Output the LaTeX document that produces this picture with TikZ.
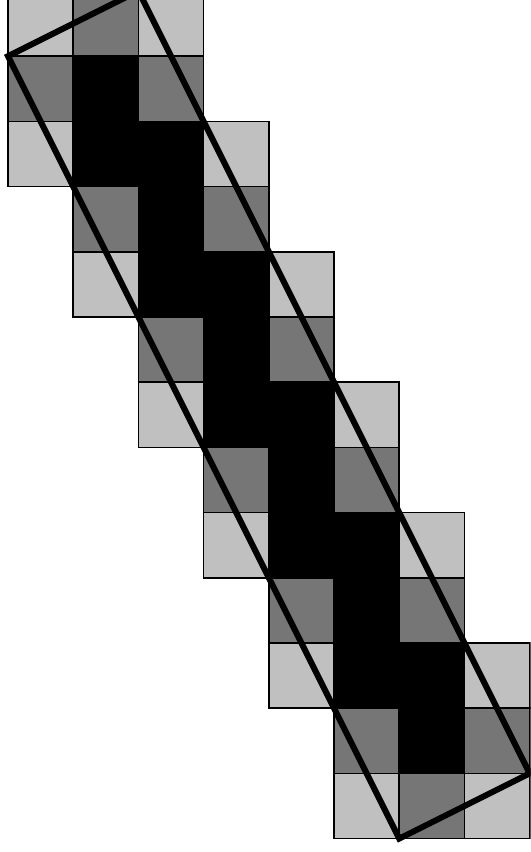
\documentclass[tikz,border=0pt]{standalone}
\usepackage{tikz}
\definecolor{celllight}{RGB}{192,192,192}
\definecolor{celldark}{RGB}{118,118,118}
\definecolor{cellblack}{RGB}{0,0,0}

\begin{document}
\begin{tikzpicture}[x=1cm,y=1cm,
 cell/.style={draw=black,line width=.75pt},
 lite/.style={cell,fill=celllight},
 dark/.style={cell,fill=celldark},
 full/.style={cell,fill=cellblack},
 band/.style={draw=black,line width=2.6pt,line join=miter}]
\clip (-.123,-.205) rectangle (8.015,12.862);
\useasboundingbox (-.123,-.205) rectangle (8.015,12.862);
% top and bottom rows
\draw[lite] (0,12) rectangle ++(1,1);
\draw[dark] (1,12) rectangle ++(1,1);
\draw[lite] (2,12) rectangle ++(1,1);
\draw[lite] (5,0) rectangle ++(1,1);
\draw[dark] (6,0) rectangle ++(1,1);
\draw[lite] (7,0) rectangle ++(1,1);
% odd rows
\foreach \k in {0,...,5}{
 \pgfmathsetmacro{\yy}{11-2*\k}
 \draw[dark] (\k,\yy) rectangle ++(1,1);
 \draw[full] (\k+1,\yy) rectangle ++(1,1);
 \draw[dark] (\k+2,\yy) rectangle ++(1,1);
}
% even rows
\foreach \k in {1,...,5}{
 \pgfmathsetmacro{\yy}{12-2*\k}
 \draw[lite] (\k-1,\yy) rectangle ++(1,1);
 \draw[full] (\k,\yy) rectangle ++(1,1);
 \draw[full] (\k+1,\yy) rectangle ++(1,1);
 \draw[lite] (\k+2,\yy) rectangle ++(1,1);
}
% thick band
\coordinate (bl) at (0,12);
\coordinate (tl) at (2,13);
\coordinate (tr) at (8,1);
\coordinate (br) at (6,0);
\draw[band] (bl) -- (tl) -- (tr) -- (br) -- cycle;
\end{tikzpicture}
\end{document}
